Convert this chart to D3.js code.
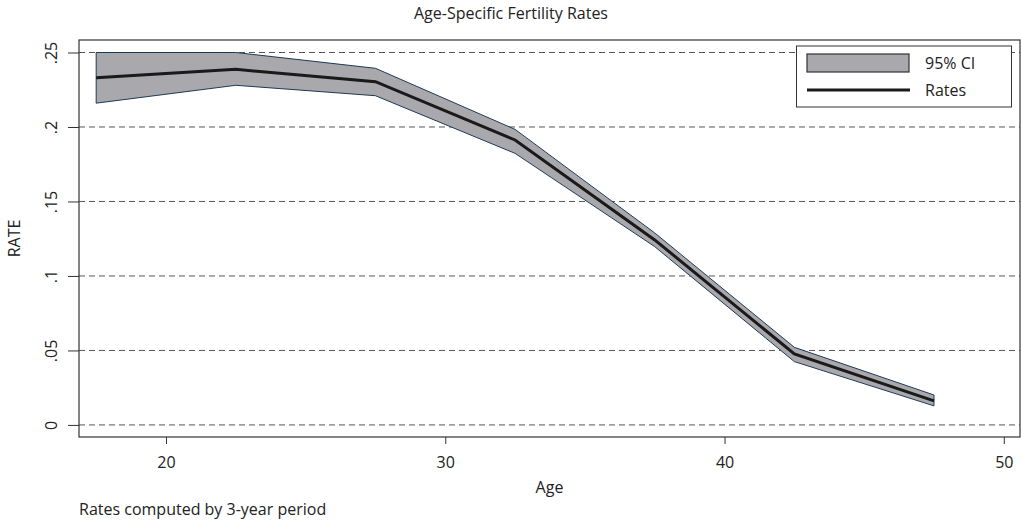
<!DOCTYPE html>
<html>
<head>
<meta charset="utf-8">
<script src="https://cdn.jsdelivr.net/npm/d3@7"></script>
<style>
  body { margin: 0; background: #fff; }
  text { font-family: "Open Sans", sans-serif; fill: #222; }
</style>
</head>
<body>
<div id="chart"></div>
<script>
// age groups (midpoints) and the estimates
var ages  = [17.5, 22.5, 27.5, 32.5, 37.5, 42.5, 47.5];
var rates = [0.233, 0.2387, 0.2304, 0.1913, 0.1242, 0.0477, 0.0161];
var upper = [0.250, 0.2500, 0.2394, 0.1984, 0.1289, 0.0521, 0.0201];
var lower = [0.216, 0.2280, 0.2210, 0.1823, 0.1197, 0.0425, 0.0128];
var xTicks = [20, 30, 40, 50];
var yTicks = [0, 0.05, 0.1, 0.15, 0.2, 0.25];

var W = 1022, H = 525;
var m = {left: 79, right: 2, top: 40, bottom: 88};
var fs = "16px";

var svg = d3.select("#chart").append("svg").attr("width", W).attr("height", H);

var x = d3.scaleLinear().domain([16.885, 50.58]).range([m.left, W - m.right]);
var y = d3.scaleLinear().domain([-0.0081, 0.2584]).range([H - m.bottom, m.top]);

var g = svg.append("g");

// dashed grid
g.selectAll(".grid").data(yTicks).enter().append("line")
  .attr("x1", m.left).attr("x2", W - m.right)
  .attr("y1", d => y(d)).attr("y2", d => y(d))
  .attr("stroke", "#555").attr("stroke-width", 1)
  .attr("stroke-dasharray", "6,4");

// CI band
var band = d3.area()
  .x((d, i) => x(ages[i]))
  .y0((d, i) => y(lower[i]))
  .y1((d, i) => y(upper[i]));
g.append("path").datum(ages).attr("d", band)
  .attr("fill", "#a9a9ad").attr("stroke", "#1d3a55").attr("stroke-width", 1);

// rate line
var line = d3.line().x((d, i) => x(ages[i])).y((d, i) => y(rates[i]));
g.append("path").datum(ages).attr("d", line)
  .attr("fill", "none").attr("stroke", "#1a1a1a").attr("stroke-width", 3);

// frame
svg.append("rect")
  .attr("x", m.left).attr("y", m.top)
  .attr("width", W - m.right - m.left).attr("height", H - m.bottom - m.top)
  .attr("fill", "none").attr("stroke", "#333").attr("stroke-width", 1.2);

// axes
var xAxis = svg.append("g").attr("transform", "translate(0," + (H - m.bottom) + ")")
  .call(d3.axisBottom(x).tickValues(xTicks).tickSize(7).tickPadding(0).tickFormat(d3.format("d")));
xAxis.select(".domain").remove();
xAxis.selectAll("line").attr("stroke", "#333");
xAxis.selectAll("text").attr("y", 31).attr("dy", null)
  .style("font-size", fs).style("font-family", "Open Sans").attr("fill", "#222");

var yAxis = svg.append("g").attr("transform", "translate(" + m.left + ",0)")
  .call(d3.axisLeft(y).tickValues(yTicks).tickSize(11)
    .tickFormat(d => d === 0 ? "0" : d3.format(".2~f")(d).replace(/^0/, "")));
yAxis.select(".domain").remove();
yAxis.selectAll("line").attr("stroke", "#333");
yAxis.selectAll("text")
  .attr("transform", "rotate(-90)")
  .attr("x", 0).attr("y", -22).attr("dy", null)
  .attr("text-anchor", "middle")
  .style("font-size", fs).style("font-family", "Open Sans").attr("fill", "#222");

// titles
svg.append("text").attr("x", 511).attr("y", 19).attr("text-anchor", "middle")
  .style("font-size", fs).text("Age-Specific Fertility Rates");
svg.append("text").attr("x", (m.left + W - m.right) / 2).attr("y", 493).attr("text-anchor", "middle")
  .style("font-size", fs).text("Age");
svg.append("text").attr("transform", "translate(20," + ((m.top + H - m.bottom) / 2) + ") rotate(-90)")
  .attr("text-anchor", "middle").style("font-size", fs).text("RATE");
svg.append("text").attr("x", m.left).attr("y", 515)
  .style("font-size", fs).text("Rates computed by 3-year period");

// legend
var lg = svg.append("g");
lg.append("rect").attr("x", 796.5).attr("y", 46).attr("width", 215).attr("height", 61)
  .attr("fill", "#fff").attr("stroke", "#333").attr("stroke-width", 1);
lg.append("rect").attr("x", 807).attr("y", 54).attr("width", 102).attr("height", 18)
  .attr("fill", "#a9a9ad").attr("stroke", "#333").attr("stroke-width", 1.2);
lg.append("line").attr("x1", 807).attr("x2", 910).attr("y1", 90).attr("y2", 90)
  .attr("stroke", "#1a1a1a").attr("stroke-width", 3);
lg.append("text").attr("x", 925).attr("y", 69).style("font-size", fs).text("95% CI");
lg.append("text").attr("x", 925).attr("y", 96).style("font-size", fs).text("Rates");
</script>
</body>
</html>
